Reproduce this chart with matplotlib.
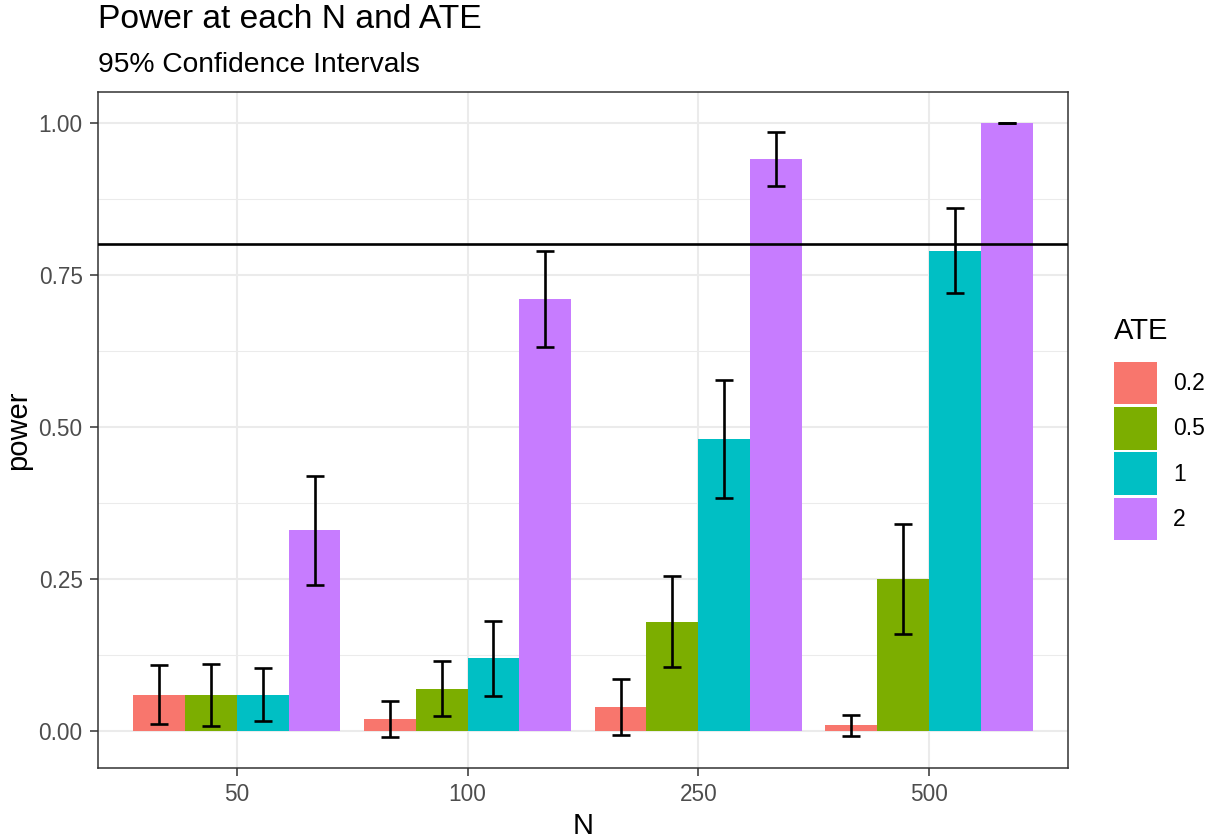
import numpy as np
import matplotlib.pyplot as plt
from matplotlib.patches import Patch

plt.rcParams['font.family'] = ['Liberation Sans', 'DejaVu Sans']

n_labels = ['50', '100', '250', '500']
ate_labels = ['0.2', '0.5', '1', '2']
colors = ['#F8766D', '#7CAE00', '#00BFC4', '#C77CFF']

# power[ate][n]
power = [
    [0.06, 0.02, 0.04, 0.01],
    [0.06, 0.07, 0.18, 0.25],
    [0.06, 0.12, 0.48, 0.79],
    [0.33, 0.71, 0.94, 1.00],
]
ci_low = [
    [0.012, -0.010, -0.007, -0.008],
    [0.008, 0.025, 0.105, 0.160],
    [0.016, 0.058, 0.384, 0.720],
    [0.240, 0.631, 0.896, 1.000],
]
ci_high = [
    [0.109, 0.049, 0.086, 0.026],
    [0.110, 0.115, 0.255, 0.341],
    [0.104, 0.181, 0.577, 0.860],
    [0.420, 0.789, 0.985, 1.000],
]
target_power = 0.8

fig = plt.figure(figsize=(12.07, 8.39), dpi=100)
ax = fig.add_axes([0.0812, 0.0846, 0.8036, 0.8057])

x = np.arange(len(n_labels))
width = 0.9 / len(ate_labels)
for i, ate in enumerate(ate_labels):
    pos = x + (i - 1.5) * width
    ax.bar(pos, power[i], width=width, color=colors[i], zorder=2)
    lo = np.array(power[i]) - np.array(ci_low[i])
    hi = np.array(ci_high[i]) - np.array(power[i])
    ax.errorbar(pos, power[i], yerr=[lo, hi], fmt='none', ecolor='black',
                elinewidth=1.9, capsize=6.2, capthick=1.9, zorder=4)

ax.axhline(target_power, color='black', lw=1.9, zorder=3)

ax.set_xlim(-0.6, 3.6)
ax.set_ylim(-0.0605, 1.0505)
ax.set_xticks(x)
ax.set_xticklabels(n_labels)
ax.set_yticks([0, 0.25, 0.5, 0.75, 1.0])
ax.set_yticklabels(['0.00', '0.25', '0.50', '0.75', '1.00'])
ax.set_yticks([0.125, 0.375, 0.625, 0.875], minor=True)

ax.grid(which='major', color='#EBEBEB', lw=1.5, zorder=0)
ax.grid(which='minor', axis='y', color='#EBEBEB', lw=0.75, zorder=0)
ax.set_axisbelow(True)
for s in ax.spines.values():
    s.set_color('#333333')
    s.set_linewidth(1.1)
ax.tick_params(which='major', length=5.5, width=1.1, color='#333333',
               labelcolor='#4D4D4D', labelsize=16.3, pad=5.5)
ax.tick_params(which='minor', length=0)

ax.set_xlabel('N', fontsize=21, labelpad=4)
ax.set_ylabel('power', fontsize=21, labelpad=5)

fig.text(0.0812, 1 - 28 / 839, 'Power at each N and ATE', fontsize=24.2, va='baseline')
fig.text(0.0812, 1 - 72 / 839, '95% Confidence Intervals', fontsize=20.3, va='baseline')

# legend title drawn separately so the gap to the keys matches
fig.text(1114 / 1207, 1 - 331 / 839, 'ATE', fontsize=21, va='center', ha='left')
handles = [Patch(facecolor=c, edgecolor='none') for c in colors]
leg = fig.legend(handles, ate_labels, loc='center left',
                 bbox_to_anchor=(1114 / 1207, 1 - 451 / 839), frameon=False,
                 fontsize=16.5, handlelength=1.88,
                 handleheight=2.45, labelspacing=0.13, handletextpad=0.7,
                 borderpad=0, borderaxespad=0)

fig.savefig('out.png', dpi=100)
